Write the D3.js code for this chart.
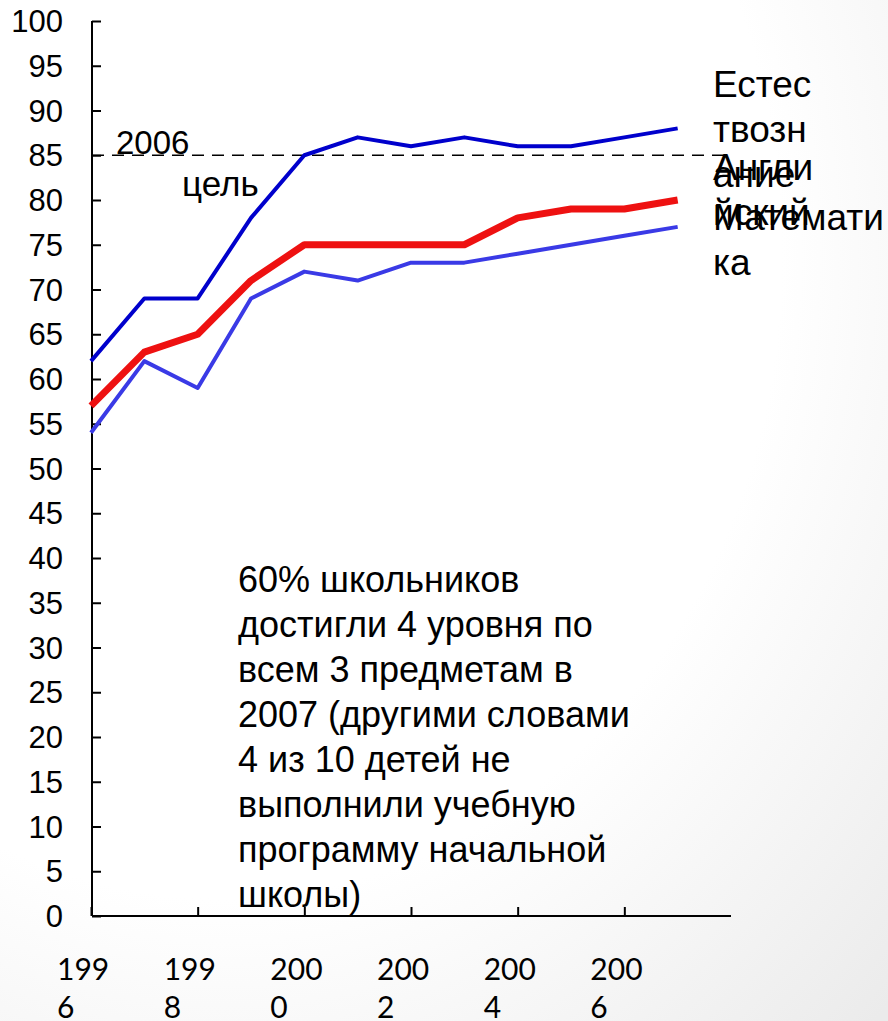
<!DOCTYPE html>
<html><head><meta charset="utf-8">
<script src="https://cdn.jsdelivr.net/npm/d3@7"></script>
<style>html,body{margin:0;padding:0;background:#fff;}svg{display:block;}</style>
</head><body>
<script>
const years = [1996,1997,1998,1999,2000,2001,2002,2003,2004,2005,2006,2007];
const science = [62,69,69,78,85,87,86,87,86,86,87,88];
const english = [57,63,65,71,75,75,75,75,78,79,79,80];
const maths   = [54,62,59,69,72,71,73,73,74,75,76,77];
const yTicks = d3.range(0,101,5);
const xTickYears = [1996,1998,2000,2002,2004,2006];
const target = 85;
const seriesLabels = [["Естес","твозн","ание"],["Англи","йский"],["Математи","ка"]];
const noteLines = ["60%  школьников","достигли 4 уровня по","всем 3 предметам в","2007 (другими словами","4 из 10 детей не","выполнили учебную","программу начальной","школы)"];

const W=888,H=1021;
const svg=d3.select("body").append("svg").attr("width",W).attr("height",H);
const defs=svg.append("defs");
const g=defs.append("radialGradient").attr("id","bg").attr("cx","0.25").attr("cy","0.25").attr("r","1.05");
g.append("stop").attr("offset","0.6").attr("stop-color","#ffffff");
g.append("stop").attr("offset","1").attr("stop-color","#ebebeb");
svg.append("rect").attr("width",W).attr("height",H).attr("fill","url(#bg)");

const x=d3.scaleLinear().domain([1996,2008]).range([91,731]);
const y=d3.scaleLinear().domain([0,100]).range([916,21]);

// y axis
const ya=svg.append("g").attr("transform","translate(92,0)")
  .call(d3.axisRight(y).tickValues(yTicks).tickSize(9).tickFormat(""));
ya.select(".domain").attr("d",`M0,${y(100)}V${y(0)}`).attr("stroke","#000").attr("stroke-width",2);
ya.selectAll(".tick line").attr("stroke","#000").attr("stroke-width",2);
svg.append("g").selectAll("text").data(yTicks).join("text")
  .attr("x",63).attr("y",d=>y(d)+11).attr("text-anchor","end")
  .attr("font-family","Liberation Sans, Arial, sans-serif").attr("font-size",31).attr("fill","#000")
  .text(d=>d);

// x axis
const xa=svg.append("g").attr("transform","translate(0,916)")
  .call(d3.axisTop(x).tickValues(xTickYears).tickSize(9).tickFormat(""));
xa.select(".domain").attr("d",`M92,0H${x(2008)}`).attr("stroke","#000").attr("stroke-width",2);
xa.selectAll(".tick line").attr("stroke","#000").attr("stroke-width",2);
const xl=svg.append("g").selectAll("text").data(xTickYears).join("text")
  .attr("x",d=>x(d)-34).attr("y",980)
  .attr("font-family","Lato, Carlito, sans-serif").attr("font-size",30).attr("fill","#000");
xl.append("tspan").text(d=>String(d).slice(0,3));
xl.append("tspan").attr("x",d=>x(d)-34).attr("dy",38).text(d=>String(d).slice(3));

// target line
svg.append("line").attr("x1",92).attr("x2",x(2008)).attr("y1",y(target)).attr("y2",y(target))
  .attr("stroke","#000").attr("stroke-width",1.5).attr("stroke-dasharray","12,8");
svg.append("text").attr("x",116).attr("y",154).attr("font-family","Liberation Sans, Arial, sans-serif")
  .attr("font-size",33).text("2006");
svg.append("text").attr("x",182).attr("y",196).attr("font-family","Liberation Sans, Arial, sans-serif")
  .attr("font-size",35).text("цель");

// lines
const line=d3.line().x((d,i)=>x(years[i])).y(d=>y(d));
const series=[{v:science,c:"#0000cc",w:4},{v:maths,c:"#3a3ae6",w:4},{v:english,c:"#ee1111",w:7}];
svg.append("g").selectAll("path").data(series).join("path")
  .attr("d",d=>line(d.v)).attr("fill","none").attr("stroke",d=>d.c).attr("stroke-width",d=>d.w)
  .attr("stroke-linejoin","round");

// right labels
const labTops=[97,180,230];
seriesLabels.forEach((ls,k)=>{
  const t=svg.append("text").attr("x",713).attr("y",labTops[k])
    .attr("font-family","Liberation Sans, Arial, sans-serif").attr("font-size",37).attr("fill","#000");
  ls.forEach((s,i)=>t.append("tspan").attr("x",713).attr("dy",i?45:0).text(s));
});

// note
const nt=svg.append("text").attr("x",238).attr("y",592)
  .attr("font-family","Liberation Sans, Arial, sans-serif").attr("font-size",36).attr("fill","#000");
noteLines.forEach((s,i)=>nt.append("tspan").attr("x",238).attr("dy",i?45:0).text(s));
</script>
</body></html>
